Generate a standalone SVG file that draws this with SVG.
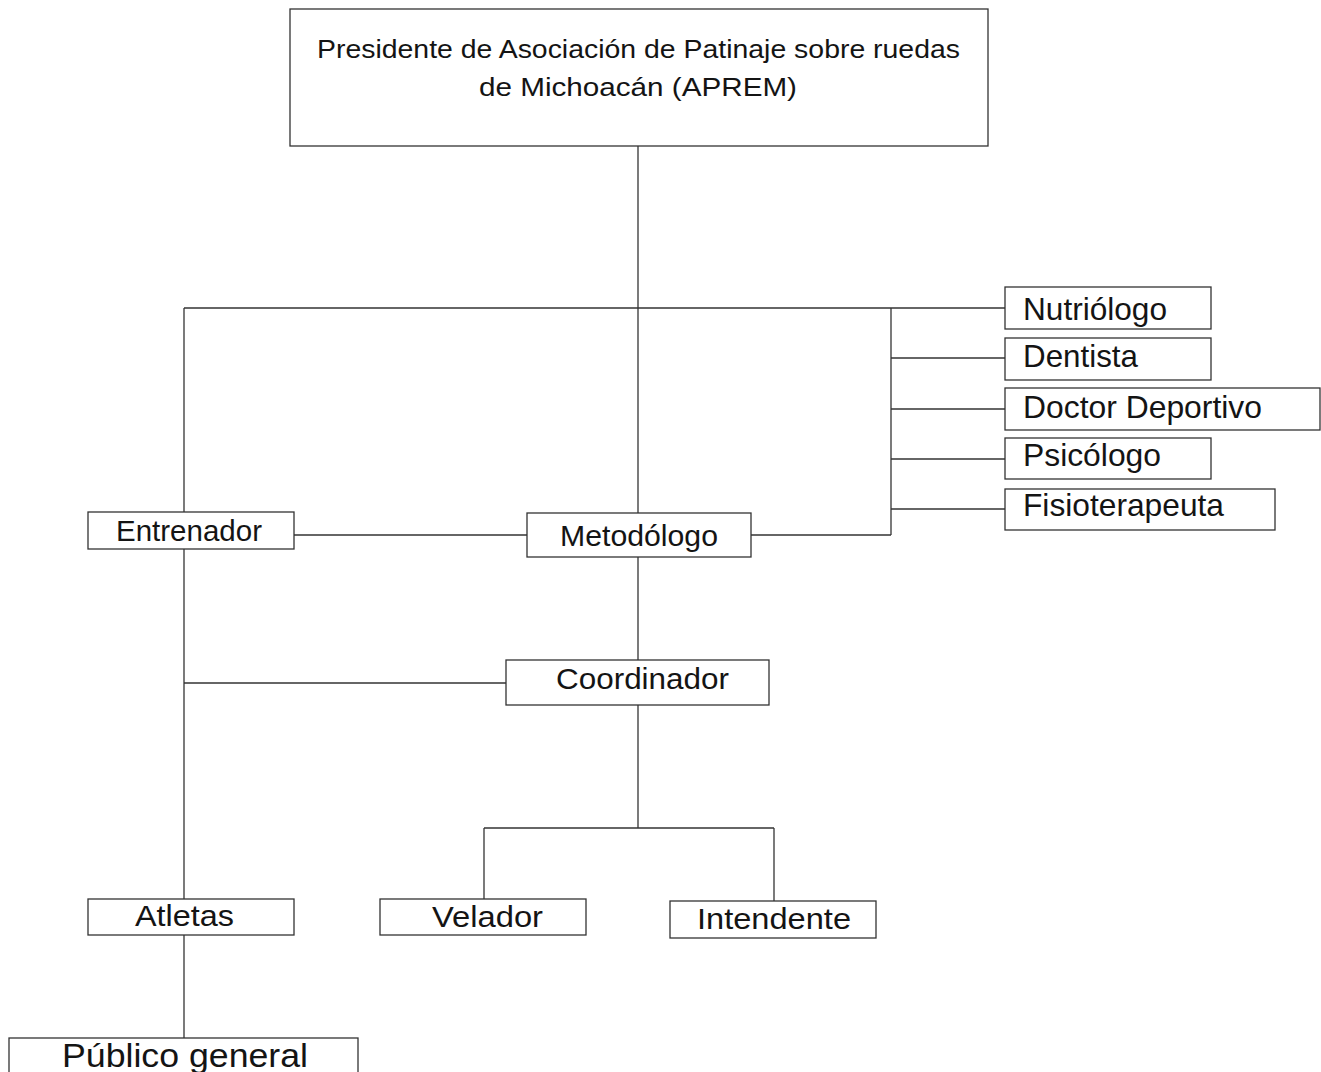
<svg xmlns="http://www.w3.org/2000/svg" width="1321" height="1072" viewBox="0 0 1321 1072">
<style>
.box{fill:#fff;stroke:#333;stroke-width:1.3}
.ln{stroke:#333;stroke-width:1.3;fill:none}
text{font-family:"Liberation Sans",Arial,sans-serif;fill:#141414}
</style>
<rect width="1321" height="1072" fill="#fff"/>
<g id="connectors">
<line class="ln" x1="638" y1="146" x2="638" y2="513"/>
<line class="ln" x1="184" y1="308" x2="1005" y2="308"/>
<line class="ln" x1="184" y1="308" x2="184" y2="512"/>
<line class="ln" x1="891" y1="308" x2="891" y2="535"/>
<line class="ln" x1="751" y1="535" x2="891" y2="535"/>
<line class="ln" x1="891" y1="358" x2="1005" y2="358"/>
<line class="ln" x1="891" y1="409" x2="1005" y2="409"/>
<line class="ln" x1="891" y1="459" x2="1005" y2="459"/>
<line class="ln" x1="891" y1="509" x2="1005" y2="509"/>
<line class="ln" x1="294" y1="535" x2="527" y2="535"/>
<line class="ln" x1="638" y1="557" x2="638" y2="660"/>
<line class="ln" x1="184" y1="549" x2="184" y2="899"/>
<line class="ln" x1="184" y1="683" x2="506" y2="683"/>
<line class="ln" x1="638" y1="705" x2="638" y2="828"/>
<line class="ln" x1="484" y1="828" x2="774" y2="828"/>
<line class="ln" x1="484" y1="828" x2="484" y2="899"/>
<line class="ln" x1="774" y1="828" x2="774" y2="901"/>
<line class="ln" x1="184" y1="935" x2="184" y2="1038"/>
</g>
<g id="presidente">
<rect class="box" x="290" y="9" width="698" height="137"/>
<text x="317" y="58" font-size="26" textLength="643" lengthAdjust="spacingAndGlyphs">Presidente de Asociación de Patinaje sobre ruedas</text>
<text x="479" y="95.5" font-size="26" textLength="318" lengthAdjust="spacingAndGlyphs">de Michoacán (APREM)</text>
</g>
<g id="nutriologo"><rect class="box" x="1005" y="287" width="206" height="42"/><text x="1023" y="320" font-size="30.5" textLength="144" lengthAdjust="spacingAndGlyphs">Nutriólogo</text></g>
<g id="dentista"><rect class="box" x="1005" y="338" width="206" height="42"/><text x="1023" y="367" font-size="30.5" textLength="115" lengthAdjust="spacingAndGlyphs">Dentista</text></g>
<g id="doctor"><rect class="box" x="1005" y="388" width="315" height="42"/><text x="1023" y="418" font-size="30.5" textLength="239" lengthAdjust="spacingAndGlyphs">Doctor Deportivo</text></g>
<g id="psicologo"><rect class="box" x="1005" y="438" width="206" height="41"/><text x="1023" y="466" font-size="30.5" textLength="138" lengthAdjust="spacingAndGlyphs">Psicólogo</text></g>
<g id="fisioterapeuta"><rect class="box" x="1005" y="489" width="270" height="41"/><text x="1023" y="516" font-size="30.5" textLength="201" lengthAdjust="spacingAndGlyphs">Fisioterapeuta</text></g>
<g id="entrenador"><rect class="box" x="88" y="512" width="206" height="37"/><text x="116" y="541" font-size="29.5" textLength="146" lengthAdjust="spacingAndGlyphs">Entrenador</text></g>
<g id="metodologo"><rect class="box" x="527" y="513" width="224" height="44"/><text x="560" y="546" font-size="29.5" textLength="158" lengthAdjust="spacingAndGlyphs">Metodólogo</text></g>
<g id="coordinador"><rect class="box" x="506" y="660" width="263" height="45"/><text x="556" y="689" font-size="30" textLength="173" lengthAdjust="spacingAndGlyphs">Coordinador</text></g>
<g id="atletas"><rect class="box" x="88" y="899" width="206" height="36"/><text x="135" y="926" font-size="30" textLength="99" lengthAdjust="spacingAndGlyphs">Atletas</text></g>
<g id="velador"><rect class="box" x="380" y="899" width="206" height="36"/><text x="432" y="926.5" font-size="30" textLength="111" lengthAdjust="spacingAndGlyphs">Velador</text></g>
<g id="intendente"><rect class="box" x="670" y="901" width="206" height="37"/><text x="697" y="929" font-size="30" textLength="154" lengthAdjust="spacingAndGlyphs">Intendente</text></g>
<g id="publico"><rect class="box" x="9" y="1038" width="349" height="45"/><text x="62" y="1067" font-size="33.5" textLength="246" lengthAdjust="spacingAndGlyphs">Público general</text></g>
</svg>
